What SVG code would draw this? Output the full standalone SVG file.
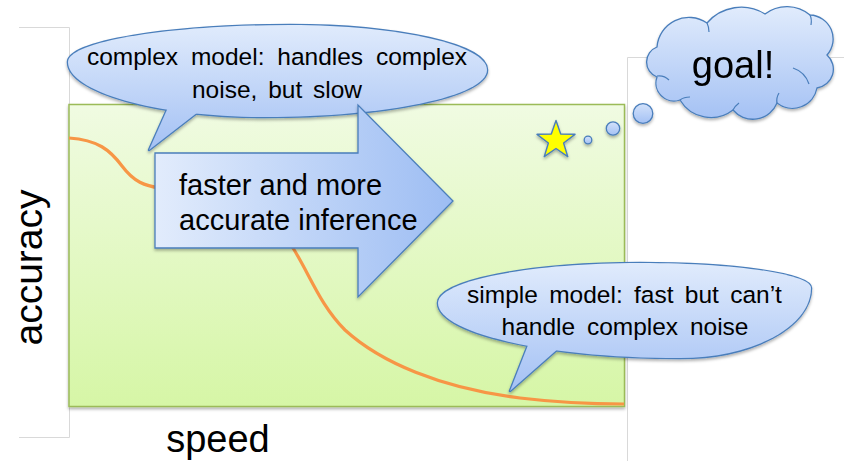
<svg xmlns="http://www.w3.org/2000/svg" width="844" height="461" viewBox="0 0 844 461">
<style>
.t{font-family:"Liberation Sans",Arial,sans-serif;fill:#000}
.frame{fill:none;stroke:#d9d9d9;stroke-width:1}
.ol{stroke:#4a7ebb;stroke-width:2.6;stroke-linejoin:round}
.fo{stroke:none}
</style>
<defs>
<linearGradient id="gBg" x1="0" y1="0" x2="0" y2="1">
<stop offset="0" stop-color="#f0fbe2"/><stop offset="1" stop-color="#d6f6a6"/>
</linearGradient>
<linearGradient id="gC" gradientUnits="userSpaceOnUse" x1="0" y1="25" x2="0" y2="150">
<stop offset="0" stop-color="#e0ebfc"/><stop offset="1" stop-color="#a4c1f4"/>
</linearGradient>
<linearGradient id="gS" gradientUnits="userSpaceOnUse" x1="0" y1="263" x2="0" y2="391">
<stop offset="0" stop-color="#e0ebfc"/><stop offset="1" stop-color="#a4c1f4"/>
</linearGradient>
<linearGradient id="gG" gradientUnits="userSpaceOnUse" x1="0" y1="8" x2="0" y2="120">
<stop offset="0" stop-color="#e0ebfc"/><stop offset="1" stop-color="#a4c1f4"/>
</linearGradient>
<linearGradient id="gA" gradientUnits="userSpaceOnUse" x1="155" y1="0" x2="453" y2="0">
<stop offset="0" stop-color="#e2ecfc"/><stop offset="1" stop-color="#9dbdf3"/>
</linearGradient>
<linearGradient id="gD" x1="0" y1="0" x2="0" y2="1">
<stop offset="0" stop-color="#d3e2fa"/><stop offset="1" stop-color="#a4c1f4"/>
</linearGradient>
<filter id="sh" x="-10%" y="-10%" width="120%" height="130%">
<feDropShadow dx="0" dy="2" stdDeviation="1.5" flood-color="#000" flood-opacity="0.3"/>
</filter>
</defs>

<g id="frames">
<polyline class="frame" points="19,27.5 69.5,27.5 69.5,437.5 19,437.5"/>
<polyline class="frame" points="844,57.5 627.5,57.5 627.5,461"/>
</g>

<g id="plot">
<rect x="69" y="104.5" width="555.5" height="302" fill="url(#gBg)" stroke="#9bbb59" stroke-width="1.5" filter="url(#sh)"/>
</g>

<g id="connectors">
<path d="M69,138 C98,140 110,150 122,166 C134,182 145,186 160,188 C230,195 265,205 293,248 C310,275 320,305 345,330 C380,362 440,388 520,398 C570,404 600,404 624,404" fill="none" stroke="#f79646" stroke-width="3.2"/>
</g>

<g id="axis-labels">
<text class="t" x="0" y="0" font-size="39" text-anchor="middle" transform="translate(42,267.5) rotate(-90)">accuracy</text>
<text class="t" x="218" y="452" font-size="38" text-anchor="middle">speed</text>
</g>

<g id="star" filter="url(#sh)">
<polygon points="556,120.5 560.7,134.03 575.02,134.32 563.61,142.97 567.76,156.68 556,148.5 544.24,156.68 548.39,142.97 536.98,134.32 551.3,134.03" fill="#ffff00" stroke="#4a7ebb" stroke-width="1.4" stroke-linejoin="round"/>
</g>

<g id="thought-dots" filter="url(#sh)" stroke="#4a7ebb" stroke-width="1.3" fill="url(#gD)">
<circle cx="588" cy="140" r="3.8"/>
<circle cx="613" cy="128.5" r="6.7"/>
<circle cx="643" cy="113.5" r="9.8"/>
</g>

<g id="goal" filter="url(#sh)">
<path d="M657,77 A16,16 0 0 1 657,47 A32,32 0 0 1 707,23 A45,45 0 0 1 765,14 A36,36 0 0 1 810,15 A24,24 0 0 1 827,55 A19,19 0 0 1 817,88 A25,25 0 0 1 777,103 A26,26 0 0 1 733,110 A36,36 0 0 1 680,100 A18,18 0 0 1 657,77 Z" fill="url(#gG)" stroke="#4a7ebb" stroke-width="1.3"/>
<g fill="none" stroke="#4a7ebb" stroke-width="1.2">
<path d="M657,76 Q664,75 669,80"/>
<path d="M680,100 Q684,97 690,97"/>
<path d="M707,23 Q709,27 709,32"/>
<path d="M810,15 Q812,19 811,25"/>
<path d="M793,68 Q805,72 809,84"/>
<path d="M777,103 Q776,98 779,93"/>
<path d="M733,110 Q735,106 739,103"/>
</g>
<text class="t" x="733" y="78" font-size="38" text-anchor="middle">goal!</text>
</g>

<g id="complex-bubble">
<g filter="url(#sh)">
<path class="ol" d="M68,62 C68,42 167,25 290,25 C399,25 487,45 487,70 C487,96 388,117 265,117 C156,117 68,92 68,62 Z" fill="url(#gC)"/>
<path class="ol" d="M174,94 L149,150 L211,102 Z" fill="url(#gC)"/>
<path class="fo" d="M68,62 C68,42 167,25 290,25 C399,25 487,45 487,70 C487,96 388,117 265,117 C156,117 68,92 68,62 Z" fill="url(#gC)"/>
<path class="fo" d="M174,94 L149,150 L211,102 Z" fill="url(#gC)"/>
</g>
<text class="t" x="277" y="65" font-size="24.5" text-anchor="middle" word-spacing="6">complex model: handles complex</text>
<text class="t" x="277" y="98" font-size="24.5" text-anchor="middle" word-spacing="4">noise, but slow</text>
</g>

<g id="arrow">
<path d="M155,153 H358 V105 L453,201 L358,297 V248 H155 Z" fill="url(#gA)" stroke="#4a7ebb" stroke-width="1.3" stroke-linejoin="miter" filter="url(#sh)"/>
<text class="t" x="179" y="195" font-size="29">faster and more</text>
<text class="t" x="179" y="230" font-size="29">accurate inference</text>
</g>

<g id="simple-bubble">
<g filter="url(#sh)">
<path class="ol" d="M438,303 C438,281 528,263 640,263 C734,263 811,274 811,288 C811,327 752,358 680,358 C546,358 438,333 438,303 Z" fill="url(#gS)"/>
<path class="ol" d="M530,340 L510,391 L568,340 Z" fill="url(#gS)"/>
<path class="fo" d="M438,303 C438,281 528,263 640,263 C734,263 811,274 811,288 C811,327 752,358 680,358 C546,358 438,333 438,303 Z" fill="url(#gS)"/>
<path class="fo" d="M530,340 L510,391 L568,340 Z" fill="url(#gS)"/>
</g>
<text class="t" x="624.5" y="303" font-size="24.5" text-anchor="middle" word-spacing="4.5">simple model: fast but can’t</text>
<text class="t" x="625" y="335" font-size="24.5" text-anchor="middle" word-spacing="5">handle complex noise</text>
</g>
</svg>
